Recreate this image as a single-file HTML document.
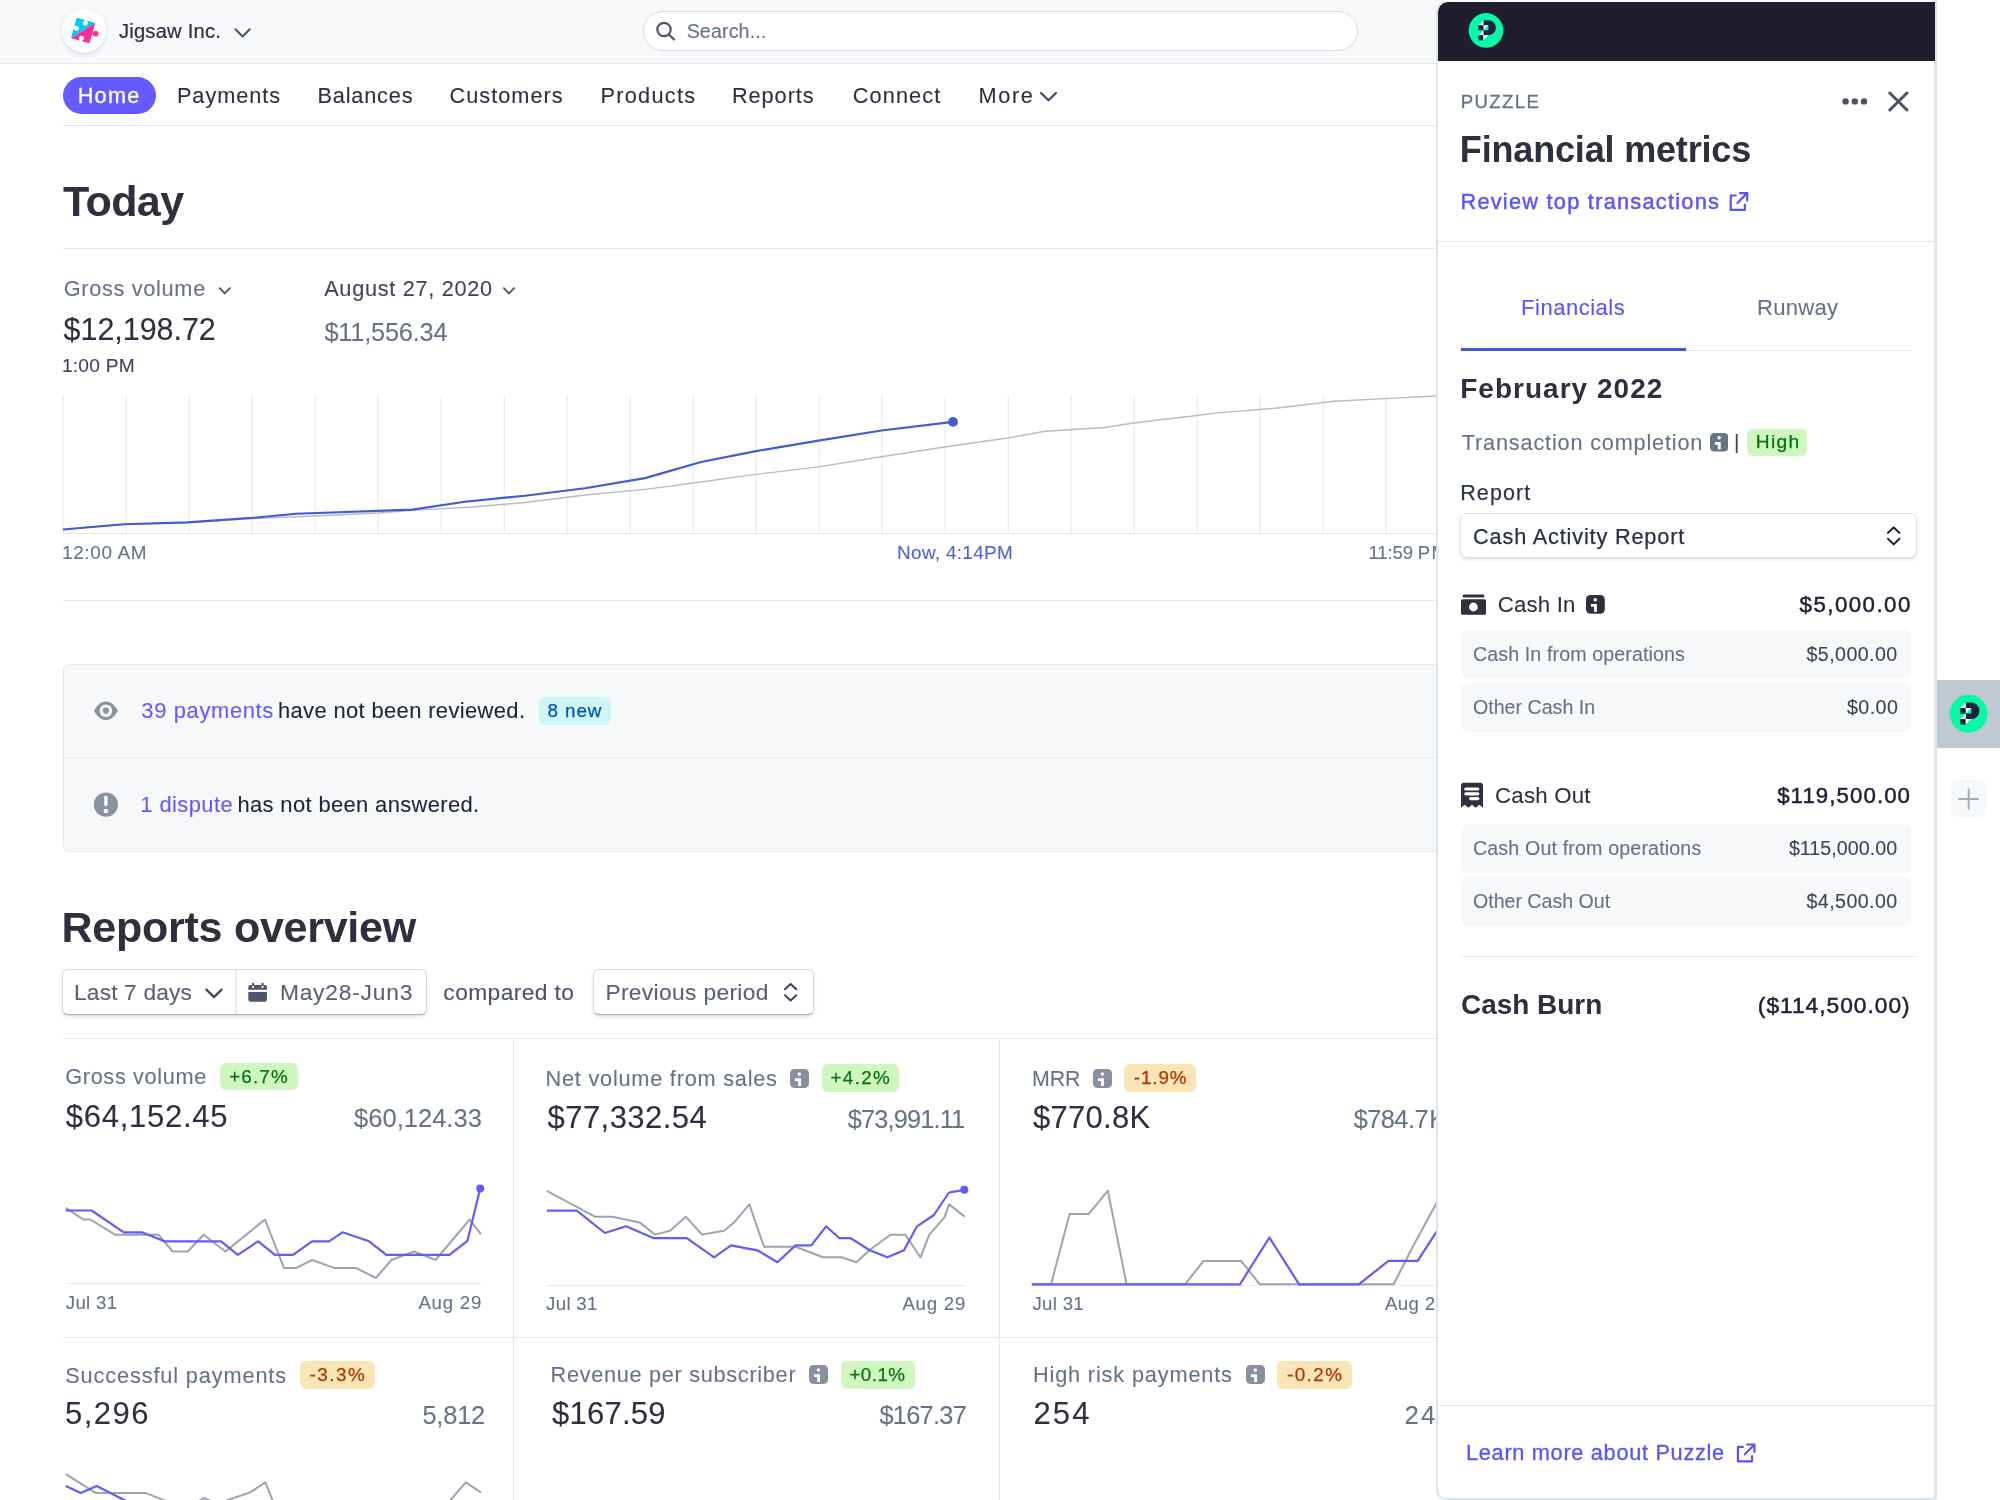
<!DOCTYPE html>
<html><head><meta charset="utf-8"><title>Dashboard</title>
<style>
html,body{margin:0;padding:0;}
body{width:2000px;height:1500px;overflow:hidden;background:#fff;position:relative;font-family:"Liberation Sans",sans-serif;}
.t{position:absolute;white-space:pre;font-family:"Liberation Sans",sans-serif;}
.a{position:absolute;}
#main{position:absolute;left:0;top:0;width:2000px;height:1500px;overflow:hidden;will-change:transform;}
#panelwrap{position:absolute;left:0;top:0;width:2000px;height:1500px;overflow:hidden;will-change:transform;}
.hl{position:absolute;height:1px;background:#e3e8ee;}
.vl{position:absolute;width:1px;background:#e3e8ee;}
.badge{position:absolute;border-radius:6px;}
.g{background:#cff6be;}
.o{background:#f9e5b5;}
.info{position:absolute;width:19px;height:19px;border-radius:4.5px;background:#87909f;}
</style></head><body>

<div id="main">
<!-- top bar -->
<div class="a" style="left:0;top:0;width:2000px;height:63px;background:#f6f8fa;"></div>
<div class="hl" style="left:0;top:63px;width:2000px;background:#e3e8ee;"></div>
<div class="a" style="left:62.4px;top:9.4px;width:43.8px;height:43.8px;border-radius:50%;background:#fff;box-shadow:0 2px 5px rgba(60,66,87,.10),0 1px 1px rgba(0,0,0,.07);"></div>
<svg class="a" style="left:60px;top:8px" width="48" height="48" viewBox="60 8 48 48">
 <defs><clipPath id="pz"><rect x="-9.75" y="-10.75" width="19.5" height="21.5"/></clipPath></defs>
 <g transform="translate(83.1,30.5) rotate(16)">
  <g clip-path="url(#pz)">
   <polygon points="-9.75,-10.75 9.75,-10.75 -9.75,10.75" fill="#00c8f8"/>
   <polygon points="9.75,-10.75 9.75,10.75 -9.75,10.75" fill="#ff2d92"/>
  </g>
  <rect x="9.5" y="-1.7" width="2.2" height="2.5" fill="#ff2d92"/><circle cx="13" cy="-0.4" r="2.75" fill="#ff2d92"/>
  <rect x="-1.1" y="-10.9" width="2.3" height="3.4" fill="#fff"/><circle cx="0.05" cy="-7.6" r="2.5" fill="#fff"/>
  <rect x="-9.9" y="-1.5" width="3" height="2.3" fill="#fff"/><circle cx="-6.9" cy="-0.3" r="2.5" fill="#fff"/>
  <rect x="-0.7" y="8" width="2.3" height="2.9" fill="#fff"/><circle cx="0.45" cy="7.9" r="2.5" fill="#fff"/>
 </g>
</svg>
<svg class="a" style="left:230px;top:24px" width="26" height="18" viewBox="230 24 26 18"><polyline points="235.5,29.3 242.6,36.4 249.7,29.3" fill="none" stroke="#4f566b" stroke-width="2.1" stroke-linecap="round" stroke-linejoin="round"/></svg>
<!-- search -->
<div class="a" style="left:642.5px;top:11px;width:713px;height:38px;border:1px solid #d5dbe1;border-radius:20px;background:#fff;"></div>
<svg class="a" style="left:652px;top:18px" width="28" height="26" viewBox="652 18 28 26"><circle cx="664" cy="29.5" r="6.7" fill="none" stroke="#4f566b" stroke-width="2.2"/><line x1="669" y1="34.7" x2="674" y2="39.4" stroke="#4f566b" stroke-width="2.2" stroke-linecap="round"/></svg>
<!-- nav -->
<div class="a" style="left:62.5px;top:76.75px;width:93.75px;height:37px;border-radius:18.5px;background:#635bff;"></div>
<svg class="a" style="left:1036px;top:88px" width="26" height="18" viewBox="1036 88 26 18"><polyline points="1041,93 1048.5,100.3 1056,93" fill="none" stroke="#3f4459" stroke-width="2.1" stroke-linecap="round" stroke-linejoin="round"/></svg>
<div class="hl" style="left:63px;top:125px;width:1937px;"></div>
<!-- today -->
<div class="hl" style="left:63px;top:248px;width:1937px;"></div>
<svg class="a" style="left:214px;top:282px" width="22" height="18" viewBox="214 282 22 18"><polyline points="219.6,288.2 224.75,293.4 229.9,288.2" fill="none" stroke="#4f566b" stroke-width="1.9" stroke-linecap="round" stroke-linejoin="round"/></svg>
<svg class="a" style="left:499px;top:282px" width="22" height="18" viewBox="499 282 22 18"><polyline points="503.9,288.2 509,293.4 514.1,288.2" fill="none" stroke="#4f566b" stroke-width="1.9" stroke-linecap="round" stroke-linejoin="round"/></svg>
<!-- main chart -->
<svg class="a" style="left:0;top:390px" width="1500" height="150" viewBox="0 390 1500 150">
 <g stroke="#e3e8ee" stroke-width="1">
  <path d="M63.2,395V533 M126.2,395V533 M189.2,395V533 M252.2,395V533 M315.2,395V533 M378.2,395V533 M441.2,395V533 M504.2,395V533 M567.2,395V533 M630.2,395V533 M693.2,395V533 M756.2,395V533 M819.2,395V533 M882.2,395V533 M945.2,395V533 M1008.2,395V533 M1071.2,395V533 M1134.2,395V533 M1197.2,395V533 M1260.2,395V533 M1323.2,395V533 M1386.2,395V533"/>
  <path d="M63,533.5H1500"/>
 </g>
 <polyline fill="none" stroke="#b4bcc8" stroke-width="1.4" stroke-linejoin="round" points="63,529.5 123.7,524.4 187.5,522.6 252,518.6 315,516 378,513 412.5,510.4 472.5,507 525,502.5 585,495 645,489.4 693.7,483 755.5,474.4 818.5,466.9 881.5,456.7 944.5,447 1007.5,438 1045,431.2 1105,427.5 1133.5,423 1196.5,415.5 1217.5,412.9 1277.5,408 1333.7,401.2 1384.7,398.6 1435,396 1500,393"/>
 <polyline fill="none" stroke="#3f5bd8" stroke-width="2.15" stroke-linejoin="round" stroke-linecap="butt" points="63,529.5 123.7,524.2 187.5,522.4 252,517.9 296,513.7 412.5,509.6 465,501.7 525,495.7 585,488.2 645,478.1 701,462 756,451.1 818.5,440.6 881.5,430.5 953,421.9"/>
 <circle cx="953" cy="421.9" r="4.9" fill="#3f5bd8"/>
</svg>
<div class="hl" style="left:63px;top:600px;width:1937px;"></div>
<!-- notifications -->
<div class="a" style="left:63px;top:664px;width:1900px;height:185.5px;border:1px solid #e3e8ee;border-radius:6px;background:#f7f8fa;"></div>
<div class="hl" style="left:64px;top:756.5px;width:1900px;background:#e6ebf1;"></div>
<svg class="a" style="left:92px;top:699px" width="28" height="24" viewBox="92 699 28 24"><path d="M93.9,710.7 C97.5,704.4 101.5,701.4 105.9,701.4 C110.3,701.4 114.3,704.4 117.9,710.7 C114.3,717 110.3,720.1 105.9,720.1 C101.5,720.1 97.5,717 93.9,710.7 Z" fill="#8792a2"/><circle cx="105.9" cy="710.7" r="6.3" fill="#f7f8fa"/><circle cx="105.9" cy="710.7" r="3.1" fill="#8792a2"/></svg>
<svg class="a" style="left:92px;top:790px" width="28" height="30" viewBox="92 790 28 30"><circle cx="105.9" cy="804.6" r="12.1" fill="#8792a2"/><rect x="104.2" y="795.5" width="3.4" height="10.8" rx="1.7" fill="#f7f8fa"/><circle cx="105.9" cy="811" r="2.3" fill="#f7f8fa"/></svg>
<div class="badge" style="left:538.8px;top:697.4px;width:72.4px;height:27.3px;background:#cff5f6;"></div>
<!-- reports overview controls -->
<div class="a" style="left:62px;top:968.75px;width:362.5px;height:44px;border:1px solid #d6d9df;border-bottom-color:#adb1bb;border-radius:6px;background:#fff;box-shadow:0 2px 4px rgba(0,0,0,.10),0 1px 1px rgba(0,0,0,.06);"></div>
<div class="a" style="left:235px;top:969.75px;width:2px;height:44px;background:#e6eaf0;"></div>
<svg class="a" style="left:201px;top:984px" width="26" height="18" viewBox="201 984 26 18"><polyline points="206.4,989.6 214,997.1 221.6,989.6" fill="none" stroke="#3f4659" stroke-width="2.2" stroke-linecap="round" stroke-linejoin="round"/></svg>
<svg class="a" style="left:246px;top:981px" width="24" height="23" viewBox="246 981 24 23"><rect x="252" y="982.7" width="2.2" height="4" rx="1" fill="#4f566b"/><rect x="261.4" y="982.7" width="2.2" height="4" rx="1" fill="#4f566b"/><path d="M250.4,985 H264.9 A2.1,2.1 0 0 1 267,987.1 V989.8 H248.3 V987.1 A2.1,2.1 0 0 1 250.4,985 Z" fill="#4f566b"/><path d="M248.3,992 H267 V999.5 A2.3,2.3 0 0 1 264.7,1001.8 H250.6 A2.3,2.3 0 0 1 248.3,999.5 Z" fill="#4f566b"/><circle cx="253.1" cy="986.9" r="1.15" fill="#fff"/><circle cx="262.5" cy="986.9" r="1.15" fill="#fff"/></svg>
<div class="a" style="left:592.5px;top:968.75px;width:219.5px;height:44px;border:1px solid #d6d9df;border-bottom-color:#adb1bb;border-radius:6px;background:#fff;box-shadow:0 2px 4px rgba(0,0,0,.10),0 1px 1px rgba(0,0,0,.06);"></div>
<svg class="a" style="left:779px;top:979px" width="24" height="28" viewBox="779 979 24 28"><polyline points="785,989.3 790.6,984 796.2,989.3" fill="none" stroke="#3f4659" stroke-width="2" stroke-linecap="round" stroke-linejoin="round"/><polyline points="785,995.3 790.6,1000.6 796.2,995.3" fill="none" stroke="#3f4659" stroke-width="2" stroke-linecap="round" stroke-linejoin="round"/></svg>
<!-- cards grid -->
<div class="hl" style="left:63px;top:1038px;width:1937px;"></div>
<div class="hl" style="left:63px;top:1337px;width:1937px;"></div>
<div class="vl" style="left:513px;top:1039px;height:461px;"></div>
<div class="vl" style="left:999px;top:1039px;height:461px;"></div>
<svg class="a" style="left:0;top:1170px" width="1500" height="330" viewBox="0 1170 1500 330">
<g stroke="#e3e8ee" stroke-width="1"><path d="M65.75,1283.6H481 M546.9,1285.4H965 M1031.8,1285.4H1500"/></g>
<polyline fill="none" stroke="#9ba4b1" stroke-width="2" stroke-linejoin="round" stroke-linecap="butt" points="65.75,1207.8 83.3,1219.5 90.5,1219.5 115.3,1234.8 158.7,1234.8 172.6,1251.5 187.7,1251.5 203.7,1234.8 225.5,1251.5 264.9,1219.5 284,1267.9 296.4,1267.9 312.1,1260 334,1267.9 356,1267.9 375.8,1278 391.4,1260 414.1,1251.5 435.5,1260 469.7,1219.5 480.9,1234.1"/>
<polyline fill="none" stroke="#9ba4b1" stroke-width="2" stroke-linejoin="round" stroke-linecap="butt" points="546.9,1190.9 595.3,1216.8 612.1,1216.8 639.6,1222.4 654.9,1234.6 670,1230.8 685.9,1216.8 702.1,1234.6 724,1230.8 734.3,1222.2 749.4,1204.4 764,1246.7 795.5,1246.7 823,1257.3 841.6,1257.3 856.3,1262.3 871.3,1248.8 890.5,1234.8 905.3,1234.8 920.4,1257.3 929.4,1234.6 944.5,1217.3 949,1204.4 964.7,1216.6"/>
<polyline fill="none" stroke="#9ba4b1" stroke-width="2" stroke-linejoin="round" stroke-linecap="butt" points="1031.8,1284.3 1051,1284.3 1069.6,1213.9 1088.8,1213.9 1107.9,1190.7 1126.6,1284.3 1185.1,1284.3 1203.5,1260.9 1241.1,1260.9 1259.8,1284.3 1393.7,1284.3 1411.7,1248.8 1436.4,1203.3 1450,1178"/>
<polyline fill="none" stroke="#9ba4b1" stroke-width="2" stroke-linejoin="round" stroke-linecap="butt" points="65.75,1474.2 96.1,1493.1 146.1,1493.1 162.5,1499.6 175,1505"/>
<polyline fill="none" stroke="#9ba4b1" stroke-width="2" stroke-linejoin="round" stroke-linecap="butt" points="195,1503 204.4,1498 214,1503"/>
<polyline fill="none" stroke="#9ba4b1" stroke-width="2" stroke-linejoin="round" stroke-linecap="butt" points="222,1503 227.8,1500 250.3,1492.4 265.3,1482.3 274,1504"/>
<polyline fill="none" stroke="#9ba4b1" stroke-width="2" stroke-linejoin="round" stroke-linecap="butt" points="447,1504 465.8,1482.3 480.9,1492.4"/>
<polyline fill="none" stroke="#635bff" stroke-width="2.2" stroke-linejoin="round" stroke-linecap="butt" points="65.75,1210.5 91.6,1210.5 123.8,1232.3 141.8,1232.3 164.3,1241.3 221,1241.3 237.9,1254.8 258.1,1241.3 275,1254.8 293,1254.8 312.1,1241.3 329,1241.3 342.5,1232.3 369.1,1241.3 386.4,1254.8 449.4,1254.8 467.4,1240.9 480.2,1188.5"/>
<polyline fill="none" stroke="#635bff" stroke-width="2.2" stroke-linejoin="round" stroke-linecap="butt" points="546.9,1210.7 576.8,1210.7 604.9,1233 626.1,1226.3 653.8,1238.2 686.8,1238.2 714.1,1257.3 730.9,1245.4 757.3,1250.3 777.5,1262.3 795.5,1245.4 811.3,1245.4 826.1,1226.3 839.4,1238.2 850.6,1238.2 869.8,1250.3 887.3,1257.3 904,1250.3 917,1226.3 933.9,1215 949,1192.5 964.3,1189.8"/>
<polyline fill="none" stroke="#635bff" stroke-width="2.2" stroke-linejoin="round" stroke-linecap="butt" points="1031.8,1284.3 1240,1284.3 1269.4,1237.5 1299.1,1284.3 1358.8,1284.3 1388.5,1260.9 1417.7,1260.9 1436.4,1231.9 1450,1211"/>
<polyline fill="none" stroke="#635bff" stroke-width="2.2" stroke-linejoin="round" stroke-linecap="butt" points="65.75,1486.1 80.8,1493.1 96.6,1486.1 124.3,1500.1 140,1508"/>
<circle cx="480.2" cy="1188.5" r="4" fill="#635bff"/><circle cx="964.3" cy="1189.8" r="4" fill="#635bff"/>
</svg>
<div class="badge g" style="left:220.3px;top:1062.6px;width:78.2px;height:27.9px;"></div>
<div class="badge g" style="left:821.6px;top:1064.1px;width:77.7px;height:27.7px;"></div>
<div class="badge o" style="left:1124.2px;top:1064.1px;width:71.8px;height:27.7px;"></div>
<div class="badge o" style="left:299.9px;top:1360.9px;width:75.1px;height:28.0px;"></div>
<div class="badge g" style="left:840.5px;top:1360.9px;width:74.7px;height:28.0px;"></div>
<div class="badge o" style="left:1277.2px;top:1360.9px;width:74.7px;height:28.0px;"></div>
<svg class="a" style="left:790.3px;top:1068.5px" width="19.0" height="19.0" viewBox="0 0 19 19"><rect x="0" y="0" width="19" height="19" rx="4.6" fill="#87909f"/><circle cx="9.4" cy="4.9" r="1.75" fill="#fff"/><path d="M5,9.2 H11 V16.9 H8.1 V12 H5 Z" fill="#fff"/></svg>
<svg class="a" style="left:1092.7px;top:1068.5px" width="19.0" height="19.0" viewBox="0 0 19 19"><rect x="0" y="0" width="19" height="19" rx="4.6" fill="#87909f"/><circle cx="9.4" cy="4.9" r="1.75" fill="#fff"/><path d="M5,9.2 H11 V16.9 H8.1 V12 H5 Z" fill="#fff"/></svg>
<svg class="a" style="left:808.8px;top:1365.4px" width="19.0" height="19.0" viewBox="0 0 19 19"><rect x="0" y="0" width="19" height="19" rx="4.6" fill="#87909f"/><circle cx="9.4" cy="4.9" r="1.75" fill="#fff"/><path d="M5,9.2 H11 V16.9 H8.1 V12 H5 Z" fill="#fff"/></svg>
<svg class="a" style="left:1245.7px;top:1365.4px" width="19.0" height="19.0" viewBox="0 0 19 19"><rect x="0" y="0" width="19" height="19" rx="4.6" fill="#87909f"/><circle cx="9.4" cy="4.9" r="1.75" fill="#fff"/><path d="M5,9.2 H11 V16.9 H8.1 V12 H5 Z" fill="#fff"/></svg>

<span class="t" style="left:118.92px;top:21.00px;font-size:20.18px;line-height:20.18px;color:#2e2f3f;letter-spacing:0.214px;-webkit-text-stroke:0.2px #2e2f3f;">Jigsaw Inc.</span>
<span class="t" style="left:686.65px;top:22.00px;font-size:19.66px;line-height:19.66px;color:#677286;letter-spacing:0.120px;-webkit-text-stroke:0.1px #677286;">Search...</span>
<span class="t" style="left:77.71px;top:85.00px;font-size:21.73px;line-height:21.73px;color:#fff;letter-spacing:1.232px;-webkit-text-stroke:0.3px #fff;">Home</span>
<span class="t" style="left:176.96px;top:85.00px;font-size:21.73px;line-height:21.73px;color:#2e2f3f;letter-spacing:0.932px;-webkit-text-stroke:0.1px #2e2f3f;">Payments</span>
<span class="t" style="left:317.46px;top:85.00px;font-size:21.73px;line-height:21.73px;color:#2e2f3f;letter-spacing:0.818px;-webkit-text-stroke:0.1px #2e2f3f;">Balances</span>
<span class="t" style="left:449.58px;top:85.00px;font-size:21.73px;line-height:21.73px;color:#2e2f3f;letter-spacing:1.003px;-webkit-text-stroke:0.1px #2e2f3f;">Customers</span>
<span class="t" style="left:600.46px;top:85.00px;font-size:21.73px;line-height:21.73px;color:#2e2f3f;letter-spacing:1.289px;-webkit-text-stroke:0.1px #2e2f3f;">Products</span>
<span class="t" style="left:731.96px;top:85.00px;font-size:21.73px;line-height:21.73px;color:#2e2f3f;letter-spacing:0.941px;-webkit-text-stroke:0.1px #2e2f3f;">Reports</span>
<span class="t" style="left:852.78px;top:85.00px;font-size:21.73px;line-height:21.73px;color:#2e2f3f;letter-spacing:1.103px;-webkit-text-stroke:0.1px #2e2f3f;">Connect</span>
<span class="t" style="left:978.46px;top:85.00px;font-size:21.73px;line-height:21.73px;color:#2e2f3f;letter-spacing:1.631px;-webkit-text-stroke:0.1px #2e2f3f;">More</span>
<span class="t" style="left:62.99px;top:180.00px;font-size:43.04px;line-height:43.04px;color:#2e2f3f;font-weight:700;letter-spacing:-0.606px;">Today</span>
<span class="t" style="left:63.79px;top:278.00px;font-size:21.73px;line-height:21.73px;color:#677286;letter-spacing:0.678px;-webkit-text-stroke:0.1px #677286;">Gross volume</span>
<span class="t" style="left:324.18px;top:278.00px;font-size:21.73px;line-height:21.73px;color:#3f4459;letter-spacing:0.699px;-webkit-text-stroke:0.1px #3f4459;">August 27, 2020</span>
<span class="t" style="left:63.62px;top:314.00px;font-size:30.45px;line-height:30.45px;color:#2e2f3f;letter-spacing:-0.026px;-webkit-text-stroke:0.1px #2e2f3f;">$12,198.72</span>
<span class="t" style="left:324.40px;top:320.00px;font-size:25.37px;line-height:25.37px;color:#677286;letter-spacing:-0.206px;-webkit-text-stroke:0.1px #677286;">$11,556.34</span>
<span class="t" style="left:61.90px;top:356.00px;font-size:19.15px;line-height:19.15px;color:#3f4459;letter-spacing:0.234px;-webkit-text-stroke:0.1px #3f4459;">1:00 PM</span>
<span class="t" style="left:62.03px;top:544.00px;font-size:18.94px;line-height:18.94px;color:#677286;letter-spacing:0.633px;-webkit-text-stroke:0.1px #677286;">12:00 AM</span>
<span class="t" style="left:897.12px;top:544.00px;font-size:18.94px;line-height:18.94px;color:#4f62d8;letter-spacing:0.297px;-webkit-text-stroke:0.1px #4f62d8;">Now, 4:14PM</span>
<span class="t" style="left:1368.55px;top:544.00px;font-size:18.57px;line-height:18.57px;color:#677286;letter-spacing:-0.158px;-webkit-text-stroke:0.1px #677286;">11:59 P</span>
<span class="t" style="left:1431.47px;top:544.00px;font-size:18.3px;line-height:18.3px;color:#677286;-webkit-text-stroke:0.1px #677286;">M</span>
<span class="t" style="left:141.37px;top:700.00px;font-size:21.94px;line-height:21.94px;color:#635bff;letter-spacing:0.626px;-webkit-text-stroke:0.1px #635bff;">39 payments</span>
<span class="t" style="left:277.96px;top:700.00px;font-size:21.94px;line-height:21.94px;color:#1f2438;letter-spacing:0.363px;-webkit-text-stroke:0.1px #1f2438;">have not been reviewed.</span>
<span class="t" style="left:547.45px;top:702.00px;font-size:18.84px;line-height:18.84px;color:#0055bc;letter-spacing:0.925px;-webkit-text-stroke:0.25px #0055bc;">8 new</span>
<span class="t" style="left:140.32px;top:794.00px;font-size:21.94px;line-height:21.94px;color:#635bff;letter-spacing:0.412px;-webkit-text-stroke:0.1px #635bff;">1 dispute</span>
<span class="t" style="left:237.46px;top:794.00px;font-size:21.94px;line-height:21.94px;color:#1f2438;letter-spacing:0.361px;-webkit-text-stroke:0.1px #1f2438;">has not been answered.</span>
<span class="t" style="left:61.52px;top:906.00px;font-size:43.04px;line-height:43.04px;color:#2e2f3f;font-weight:700;letter-spacing:-0.270px;">Reports overview</span>
<span class="t" style="left:74.02px;top:981.00px;font-size:22.77px;line-height:22.77px;color:#596173;letter-spacing:0.147px;-webkit-text-stroke:0.1px #596173;">Last 7 days</span>
<span class="t" style="left:279.92px;top:981.00px;font-size:22.77px;line-height:22.77px;color:#596173;letter-spacing:0.792px;-webkit-text-stroke:0.1px #596173;">May28-Jun3</span>
<span class="t" style="left:443.37px;top:981.00px;font-size:22.77px;line-height:22.77px;color:#4a5167;letter-spacing:0.410px;-webkit-text-stroke:0.1px #4a5167;">compared to</span>
<span class="t" style="left:605.42px;top:981.00px;font-size:22.77px;line-height:22.77px;color:#596173;letter-spacing:0.347px;-webkit-text-stroke:0.1px #596173;">Previous period</span>
<span class="t" style="left:65.19px;top:1066.00px;font-size:21.73px;line-height:21.73px;color:#677286;letter-spacing:0.660px;-webkit-text-stroke:0.1px #677286;">Gross volume</span>
<span class="t" style="left:229.21px;top:1068.00px;font-size:18.84px;line-height:18.84px;color:#067310;letter-spacing:1.131px;-webkit-text-stroke:0.25px #067310;">+6.7%</span>
<span class="t" style="left:65.77px;top:1101.00px;font-size:31.05px;line-height:31.05px;color:#2e2f3f;letter-spacing:0.716px;-webkit-text-stroke:0.1px #2e2f3f;">$64,152.45</span>
<span class="t" style="left:354.09px;top:1106.00px;font-size:25.54px;line-height:25.54px;color:#677286;-webkit-text-stroke:0.1px #677286;">$60,124.33</span>
<span class="t" style="left:65.82px;top:1294.00px;font-size:18.63px;line-height:18.63px;color:#677286;letter-spacing:0.325px;-webkit-text-stroke:0.1px #677286;">Jul 31</span>
<span class="t" style="left:418.38px;top:1294.00px;font-size:18.63px;line-height:18.63px;color:#677286;letter-spacing:0.799px;-webkit-text-stroke:0.1px #677286;">Aug 29</span>
<span class="t" style="left:545.56px;top:1068.00px;font-size:21.73px;line-height:21.73px;color:#677286;letter-spacing:0.767px;-webkit-text-stroke:0.1px #677286;">Net volume from sales</span>
<span class="t" style="left:830.51px;top:1069.00px;font-size:18.84px;line-height:18.84px;color:#067310;letter-spacing:1.331px;-webkit-text-stroke:0.25px #067310;">+4.2%</span>
<span class="t" style="left:547.57px;top:1102.00px;font-size:31.05px;line-height:31.05px;color:#2e2f3f;letter-spacing:0.420px;-webkit-text-stroke:0.1px #2e2f3f;">$77,332.54</span>
<span class="t" style="left:847.80px;top:1107.00px;font-size:25.37px;line-height:25.37px;color:#677286;letter-spacing:-0.851px;-webkit-text-stroke:0.1px #677286;">$73,991.11</span>
<span class="t" style="left:546.12px;top:1295.00px;font-size:18.63px;line-height:18.63px;color:#677286;letter-spacing:0.325px;-webkit-text-stroke:0.1px #677286;">Jul 31</span>
<span class="t" style="left:902.38px;top:1295.00px;font-size:18.63px;line-height:18.63px;color:#677286;letter-spacing:0.799px;-webkit-text-stroke:0.1px #677286;">Aug 29</span>
<span class="t" style="left:1031.95px;top:1069.00px;font-size:21.31px;line-height:21.31px;color:#677286;letter-spacing:0.006px;-webkit-text-stroke:0.1px #677286;">MRR</span>
<span class="t" style="left:1133.75px;top:1069.00px;font-size:18.84px;line-height:18.84px;color:#b13600;letter-spacing:0.894px;-webkit-text-stroke:0.25px #b13600;">-1.9%</span>
<span class="t" style="left:1033.07px;top:1102.00px;font-size:31.05px;line-height:31.05px;color:#2e2f3f;letter-spacing:0.244px;-webkit-text-stroke:0.1px #2e2f3f;">$770.8K</span>
<span class="t" style="left:1353.70px;top:1107.00px;font-size:25.37px;line-height:25.37px;color:#677286;letter-spacing:-0.545px;-webkit-text-stroke:0.1px #677286;">$784.7</span>
<span class="t" style="left:1429.14px;top:1107.00px;font-size:25px;line-height:25px;color:#677286;-webkit-text-stroke:0.1px #677286;">K</span>
<span class="t" style="left:1032.42px;top:1295.00px;font-size:18.63px;line-height:18.63px;color:#677286;letter-spacing:0.325px;-webkit-text-stroke:0.1px #677286;">Jul 31</span>
<span class="t" style="left:1385.08px;top:1295.00px;font-size:18.63px;line-height:18.63px;color:#677286;letter-spacing:0.350px;-webkit-text-stroke:0.1px #677286;">Aug 2</span>
<span class="t" style="left:65.23px;top:1365.00px;font-size:21.73px;line-height:21.73px;color:#677286;letter-spacing:0.871px;-webkit-text-stroke:0.1px #677286;">Successful payments</span>
<span class="t" style="left:309.45px;top:1366.00px;font-size:18.84px;line-height:18.84px;color:#b13600;letter-spacing:1.544px;-webkit-text-stroke:0.25px #b13600;">-3.3%</span>
<span class="t" style="left:64.92px;top:1398.00px;font-size:31.05px;line-height:31.05px;color:#2e2f3f;letter-spacing:1.501px;-webkit-text-stroke:0.1px #2e2f3f;">5,296</span>
<span class="t" style="left:422.41px;top:1403.00px;font-size:25.37px;line-height:25.37px;color:#677286;letter-spacing:-0.168px;-webkit-text-stroke:0.1px #677286;">5,812</span>
<span class="t" style="left:550.56px;top:1364.00px;font-size:21.73px;line-height:21.73px;color:#677286;letter-spacing:0.690px;-webkit-text-stroke:0.1px #677286;">Revenue per subscriber</span>
<span class="t" style="left:849.41px;top:1366.00px;font-size:18.84px;line-height:18.84px;color:#067310;letter-spacing:0.431px;-webkit-text-stroke:0.25px #067310;">+0.1%</span>
<span class="t" style="left:551.97px;top:1398.00px;font-size:31.05px;line-height:31.05px;color:#2e2f3f;letter-spacing:0.237px;-webkit-text-stroke:0.1px #2e2f3f;">$167.59</span>
<span class="t" style="left:879.40px;top:1403.00px;font-size:25.37px;line-height:25.37px;color:#677286;letter-spacing:-0.721px;-webkit-text-stroke:0.1px #677286;">$167.37</span>
<span class="t" style="left:1032.96px;top:1364.00px;font-size:21.73px;line-height:21.73px;color:#677286;letter-spacing:0.843px;-webkit-text-stroke:0.1px #677286;">High risk payments</span>
<span class="t" style="left:1286.95px;top:1366.00px;font-size:18.84px;line-height:18.84px;color:#b13600;letter-spacing:1.444px;-webkit-text-stroke:0.25px #b13600;">-0.2%</span>
<span class="t" style="left:1033.40px;top:1398.00px;font-size:31.05px;line-height:31.05px;color:#2e2f3f;letter-spacing:2.119px;-webkit-text-stroke:0.1px #2e2f3f;">254</span>
<span class="t" style="left:1404.54px;top:1403.00px;font-size:25.87px;line-height:25.87px;color:#677286;letter-spacing:2.009px;-webkit-text-stroke:0.1px #677286;">247</span>
</div>
<div id="panelwrap">
<!-- right rail -->
<div class="a" style="left:1937px;top:0;width:63px;height:1500px;background:#fff;"></div>
<div class="a" style="left:1937px;top:679.5px;width:63px;height:68.5px;background:#c0c8d2;"></div>
<svg class="a" style="left:1948px;top:693px" width="42" height="42" viewBox="0 0 42 42"><g transform="translate(20.6,20.7) scale(1.1)"><circle r="17.3" fill="#00fca4"/><g transform="translate(-7.6,-10.1)" ><path d="M5,0 H10 A7.5,7.5 0 0 1 10,15 H5 Z" fill="#22223f"/><rect x="5" y="5" width="5" height="5" fill="#00fca4"/><polygon points="5,5 10,5 5,10" fill="#fff"/><polygon points="0,5 5,0 5,5" fill="#fff"/><rect x="0" y="5" width="5" height="5" fill="#22223f"/><polygon points="0,15 5,10 5,15" fill="#fff"/><rect x="0" y="15" width="5" height="5" fill="#22223f"/><polygon points="5,15 10,15 5,20" fill="#fff"/></g></g></svg>
<div class="a" style="left:1950px;top:780px;width:37.4px;height:37.2px;border-radius:7px;background:#f6f8fa;"></div>
<svg class="a" style="left:1955px;top:785px" width="28" height="28" viewBox="1955 785 28 28"><path d="M1968.7,789.6V808.4 M1959.2,799H1978.2" fill="none" stroke="#a3acb9" stroke-width="2" stroke-linecap="round"/></svg>
<!-- panel -->
<div class="a" style="left:1436px;top:1px;width:496.4px;height:1496.5px;background:#fff;border:2px solid #dce3eb;border-right:3px solid #e0e6ed;border-top:none;border-radius:10px 0 0 10px;box-sizing:content-box;"></div>
<div class="a" style="left:1437.5px;top:1.5px;width:497px;height:59.5px;background:#1f1d2e;border-radius:10px 0 0 0;"></div>
<svg class="a" style="left:1466px;top:10px" width="40" height="40" viewBox="1466 10 40 40"><g transform="translate(1486,30.4)"><circle r="17.3" fill="#00fca4"/><g transform="translate(-7.6,-10.1)"><path d="M5,0 H10 A7.5,7.5 0 0 1 10,15 H5 Z" fill="#22223f"/><rect x="5" y="5" width="5" height="5" fill="#00fca4"/><polygon points="5,5 10,5 5,10" fill="#fff"/><polygon points="0,5 5,0 5,5" fill="#fff"/><rect x="0" y="5" width="5" height="5" fill="#22223f"/><polygon points="0,15 5,10 5,15" fill="#fff"/><rect x="0" y="15" width="5" height="5" fill="#22223f"/><polygon points="5,15 10,15 5,20" fill="#fff"/></g></g></svg>
<!-- header controls -->
<svg class="a" style="left:1838px;top:88px" width="76" height="28" viewBox="1838 88 76 28"><circle cx="1845.6" cy="101.4" r="3.2" fill="#4a5168"/><circle cx="1854.8" cy="101.4" r="3.2" fill="#4a5168"/><circle cx="1864" cy="101.4" r="3.2" fill="#4a5168"/><path d="M1889.8,93 L1907,110 M1907,93 L1889.8,110" stroke="#4a5168" stroke-width="3" stroke-linecap="round"/></svg>
<svg class="a" style="left:1726px;top:189px" width="26" height="26" viewBox="1726 189 26 26"><path d="M1735.7,195.5 H1730.75 V209.9 H1744.85 V204.8 M1737.5,203 L1747.25,193.1 M1739.9,193.1 H1747.25 V200.6" fill="none" stroke="#5b52ff" stroke-width="2.2" stroke-linecap="round" stroke-linejoin="round"/></svg>
<div class="hl" style="left:1438px;top:240.5px;width:497px;background:#dfe5ec;"></div>
<!-- tabs -->
<div class="hl" style="left:1461px;top:350px;width:450px;background:#dfe5ec;"></div>
<div class="a" style="left:1461px;top:348px;width:225px;height:3.4px;background:#3f5bd8;"></div>
<!-- transaction completion -->
<div class="badge g" style="left:1747.1px;top:428.6px;width:60.3px;height:27px;"></div>
<!-- select -->
<div class="a" style="left:1460px;top:513.2px;width:454.6px;height:43px;border:1px solid #dde3ea;border-radius:7px;background:#fff;box-shadow:0 2px 4px rgba(0,0,0,.09),0 1px 1px rgba(0,0,0,.05);"></div>
<svg class="a" style="left:1882px;top:522px" width="24" height="28" viewBox="1882 522 24 28"><polyline points="1888,532.8 1893.7,527.4 1899.4,532.8" fill="none" stroke="#1f2133" stroke-width="2" stroke-linecap="round" stroke-linejoin="round"/><polyline points="1888,538.8 1893.7,544.4 1899.4,538.8" fill="none" stroke="#1f2133" stroke-width="2" stroke-linecap="round" stroke-linejoin="round"/></svg>
<!-- cash in -->
<svg class="a" style="left:1459px;top:592px" width="30" height="26" viewBox="1459 592 30 26"><rect x="1462.8" y="594.4" width="21.4" height="3.2" rx="1.2" fill="#2e2f3f"/><rect x="1461" y="599.2" width="25" height="15.6" rx="1.6" fill="#2e2f3f"/><circle cx="1473.4" cy="607" r="4.4" fill="#fff"/></svg>
<div class="a" style="left:1461px;top:630px;width:450px;height:49px;border-radius:6px;background:#f6f8fa;"></div>
<div class="a" style="left:1461px;top:683px;width:450px;height:49px;border-radius:6px;background:#f6f8fa;"></div>
<!-- cash out -->
<svg class="a" style="left:1459px;top:780px" width="28" height="30" viewBox="1459 780 28 30"><path d="M1464,782.8 H1480 A3,3 0 0 1 1483,785.8 V807.8 L1479.3,804.8 L1475.7,807.8 L1472,804.8 L1468.3,807.8 L1464.7,804.8 L1461,807.8 V785.8 A3,3 0 0 1 1464,782.8 Z" fill="#2e2f3f"/><rect x="1464.2" y="787.4" width="15.2" height="3.2" rx="1.6" fill="#fff"/><rect x="1464.2" y="792.2" width="15.2" height="3.2" rx="1.6" fill="#fff"/><rect x="1469" y="797" width="10.4" height="3.2" rx="1.6" fill="#fff"/></svg>
<div class="a" style="left:1461px;top:824px;width:450px;height:49px;border-radius:6px;background:#f6f8fa;"></div>
<div class="a" style="left:1461px;top:877px;width:450px;height:49px;border-radius:6px;background:#f6f8fa;"></div>
<div class="hl" style="left:1461px;top:956px;width:454.5px;background:#dfe5ec;"></div>
<!-- footer -->
<div class="hl" style="left:1438px;top:1405px;width:497px;background:#dfe5ec;"></div>
<svg class="a" style="left:1733px;top:1440px" width="26" height="26" viewBox="1733 1440 26 26"><path d="M1742.9,1446.9 H1737.95 V1461.3 H1752.05 V1456.2 M1744.7,1454.4 L1754.45,1444.5 M1747.1,1444.5 H1754.45 V1452" fill="none" stroke="#5b52ff" stroke-width="2.2" stroke-linecap="round" stroke-linejoin="round"/></svg>
<svg class="a" style="left:1709.6px;top:433.2px" width="18.5" height="18.5" viewBox="0 0 19 19"><rect x="0" y="0" width="19" height="19" rx="4.6" fill="#6a7383"/><circle cx="9.4" cy="4.9" r="1.75" fill="#fff"/><path d="M5,9.2 H11 V16.9 H8.1 V12 H5 Z" fill="#fff"/></svg>
<svg class="a" style="left:1586.2px;top:595px" width="18.8" height="18.8" viewBox="0 0 19 19"><rect x="0" y="0" width="19" height="19" rx="4.6" fill="#2e2f3f"/><circle cx="9.4" cy="4.9" r="1.75" fill="#fff"/><path d="M5,9.2 H11 V16.9 H8.1 V12 H5 Z" fill="#fff"/></svg>

<span class="t" style="left:1460.73px;top:93.00px;font-size:18.63px;line-height:18.63px;color:#677286;letter-spacing:1.381px;-webkit-text-stroke:0.3px #677286;">PUZZLE</span>
<span class="t" style="left:1459.85px;top:132.00px;font-size:36.03px;line-height:36.03px;color:#2e2f3f;font-weight:700;letter-spacing:-0.183px;">Financial metrics</span>
<span class="t" style="left:1460.46px;top:191.00px;font-size:21.73px;line-height:21.73px;color:#5b53ff;letter-spacing:1.265px;-webkit-text-stroke:0.45px #5b53ff;">Review top transactions</span>
<span class="t" style="left:1521.05px;top:297.00px;font-size:22.05px;line-height:22.05px;color:#5b53ff;letter-spacing:0.490px;-webkit-text-stroke:0.1px #5b53ff;">Financials</span>
<span class="t" style="left:1757.05px;top:297.00px;font-size:22.05px;line-height:22.05px;color:#677286;letter-spacing:0.287px;-webkit-text-stroke:0.1px #677286;">Runway</span>
<span class="t" style="left:1460.22px;top:375.00px;font-size:27.94px;line-height:27.94px;color:#2e2f3f;font-weight:700;letter-spacing:1.048px;">February 2022</span>
<span class="t" style="left:1461.79px;top:432.00px;font-size:21.73px;line-height:21.73px;color:#677286;letter-spacing:0.805px;-webkit-text-stroke:0.1px #677286;">Transaction completion</span>
<span class="t" style="left:1734.12px;top:431.00px;font-size:21px;line-height:21px;color:#3f4459;-webkit-text-stroke:0.1px #3f4459;">|</span>
<span class="t" style="left:1755.70px;top:432.00px;font-size:19.15px;line-height:19.15px;color:#067310;letter-spacing:1.369px;-webkit-text-stroke:0.25px #067310;">High</span>
<span class="t" style="left:1460.26px;top:483.00px;font-size:21.53px;line-height:21.53px;color:#30374a;letter-spacing:1.078px;-webkit-text-stroke:0.25px #30374a;">Report</span>
<span class="t" style="left:1473.08px;top:526.00px;font-size:21.73px;line-height:21.73px;color:#2a3045;letter-spacing:0.823px;-webkit-text-stroke:0.25px #2a3045;">Cash Activity Report</span>
<span class="t" style="left:1497.78px;top:594.00px;font-size:22.25px;line-height:22.25px;color:#2e2f3f;letter-spacing:0.154px;-webkit-text-stroke:0.1px #2e2f3f;">Cash In</span>
<span class="t" style="left:1799.56px;top:594.00px;font-size:22.25px;line-height:22.25px;color:#1f2033;letter-spacing:1.467px;-webkit-text-stroke:0.5px #1f2033;">$5,000.00</span>
<span class="t" style="left:1472.94px;top:645.00px;font-size:19.66px;line-height:19.66px;color:#677286;letter-spacing:0.100px;-webkit-text-stroke:0.1px #677286;">Cash In from operations</span>
<span class="t" style="left:1806.50px;top:645.00px;font-size:19.66px;line-height:19.66px;color:#3f4459;letter-spacing:0.413px;-webkit-text-stroke:0.1px #3f4459;">$5,000.00</span>
<span class="t" style="left:1472.98px;top:698.00px;font-size:19.66px;line-height:19.66px;color:#677286;letter-spacing:-0.014px;-webkit-text-stroke:0.1px #677286;">Other Cash In</span>
<span class="t" style="left:1847.00px;top:698.00px;font-size:19.66px;line-height:19.66px;color:#3f4459;letter-spacing:0.406px;-webkit-text-stroke:0.1px #3f4459;">$0.00</span>
<span class="t" style="left:1495.08px;top:785.00px;font-size:22.25px;line-height:22.25px;color:#2e2f3f;letter-spacing:0.189px;-webkit-text-stroke:0.1px #2e2f3f;">Cash Out</span>
<span class="t" style="left:1777.16px;top:785.00px;font-size:22.25px;line-height:22.25px;color:#1f2033;letter-spacing:1.071px;-webkit-text-stroke:0.5px #1f2033;">$119,500.00</span>
<span class="t" style="left:1472.94px;top:839.00px;font-size:19.66px;line-height:19.66px;color:#677286;letter-spacing:0.141px;-webkit-text-stroke:0.1px #677286;">Cash Out from operations</span>
<span class="t" style="left:1788.90px;top:839.00px;font-size:19.66px;line-height:19.66px;color:#3f4459;letter-spacing:0.035px;-webkit-text-stroke:0.1px #3f4459;">$115,000.00</span>
<span class="t" style="left:1472.98px;top:892.00px;font-size:19.62px;line-height:19.62px;color:#677286;letter-spacing:-0.016px;-webkit-text-stroke:0.1px #677286;">Other Cash Out</span>
<span class="t" style="left:1806.50px;top:892.00px;font-size:19.66px;line-height:19.66px;color:#3f4459;letter-spacing:0.413px;-webkit-text-stroke:0.1px #3f4459;">$4,500.00</span>
<span class="t" style="left:1461.05px;top:991.00px;font-size:27.94px;line-height:27.94px;color:#2e2f3f;font-weight:700;">Cash Burn</span>
<span class="t" style="left:1757.83px;top:994.00px;font-size:22.77px;line-height:22.77px;color:#1f2033;letter-spacing:0.979px;-webkit-text-stroke:0.5px #1f2033;">($114,500.00)</span>
<span class="t" style="left:1466.06px;top:1442.00px;font-size:21.73px;line-height:21.73px;color:#5b53ff;letter-spacing:0.700px;-webkit-text-stroke:0.3px #5b53ff;">Learn more about Puzzle</span>
</div>
</body></html>
